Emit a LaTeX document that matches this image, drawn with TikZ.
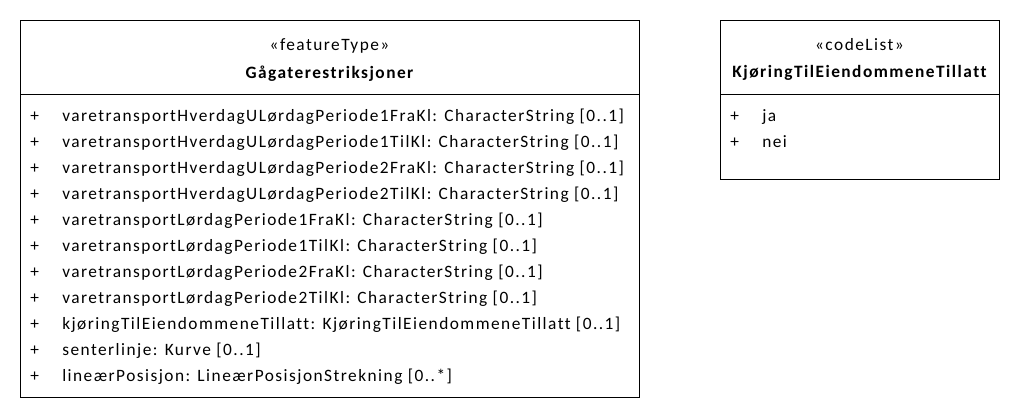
\documentclass[tikz,border=0pt]{standalone}
\usepackage{fontspec}
\setmainfont{Carlito}[LetterSpace=8.5,Ligatures={NoCommon}]
\begin{document}
\begin{tikzpicture}[x=0.75pt,y=-0.75pt,
  box/.style={draw=black,line width=0.75pt},
  txt/.style={inner sep=0pt,anchor=base west,font=\fontsize{13pt}{15pt}\selectfont},
  hdr/.style={inner sep=0pt,anchor=base,font=\fontsize{13pt}{15pt}\selectfont},
  hdrb/.style={inner sep=0pt,anchor=base,font=\fontsize{13pt}{15pt}\selectfont\bfseries}]
\useasboundingbox (0,0) rectangle (1020,418);
% left class
\draw[box] (20,20) rectangle (639,397);
\draw[box] (20,94) -- (639,94);
\node[hdr] (st1) at (329.5,50.7) {«featureType»};
\node[hdrb] (nm1) at (329.5,78) {Gågaterestriksjoner};
\foreach \t [count=\i from 0] in {
 {varetransportHverdagULørdagPeriode1FraKl: CharacterString [0..1]},
 {varetransportHverdagULørdagPeriode1TilKl: CharacterString [0..1]},
 {varetransportHverdagULørdagPeriode2FraKl: CharacterString [0..1]},
 {varetransportHverdagULørdagPeriode2TilKl: CharacterString [0..1]},
 {varetransportLørdagPeriode1FraKl: CharacterString [0..1]},
 {varetransportLørdagPeriode1TilKl: CharacterString [0..1]},
 {varetransportLørdagPeriode2FraKl: CharacterString [0..1]},
 {varetransportLørdagPeriode2TilKl: CharacterString [0..1]},
 {kjøringTilEiendommeneTillatt: KjøringTilEiendommeneTillatt [0..1]},
 {senterlinje: Kurve [0..1]},
 {lineærPosisjon: LineærPosisjonStrekning [0..*]}} {
  \node[txt] (p\i) at (30,121+26.07*\i) {+};
  \node[txt] (a\i) at (62,121+26.07*\i) {\t};
}
% right class
\draw[box] (720,20) rectangle (999,179);
\draw[box] (720,94) -- (999,94);
\node[hdr] (st2) at (859.5,50.7) {«codeList»};
\node[hdrb] (nm2) at (859.5,77.7) {KjøringTilEiendommeneTillatt};
\node[txt] (q0) at (730,121) {+};
\node[txt] (b0) at (762,121) {ja};
\node[txt] (q1) at (730,147) {+};
\node[txt] (b1) at (762,147) {nei};
\end{tikzpicture}
\end{document}
